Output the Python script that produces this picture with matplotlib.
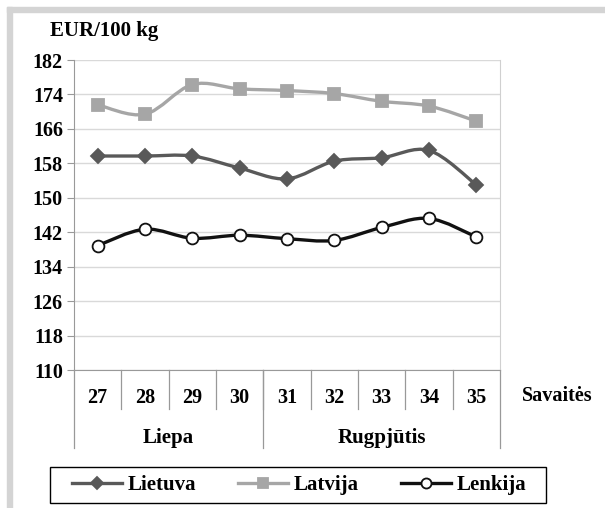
import matplotlib.pyplot as plt
from matplotlib.path import Path
from matplotlib.patches import PathPatch, Rectangle
from matplotlib.lines import Line2D
import numpy as np

weeks = ['27', '28', '29', '30', '31', '32', '33', '34', '35']
months = ['Liepa', 'Rugpjūtis']
month_spans = [(0, 3), (4, 8)]

lietuva = [159.7, 159.7, 159.7, 156.9, 154.4, 158.5, 159.3, 161.0, 153.0]
latvija = [171.6, 169.4, 176.3, 175.3, 174.9, 174.2, 172.4, 171.3, 167.8]
lenkija = [138.9, 142.7, 140.6, 141.3, 140.5, 140.1, 143.1, 145.2, 140.9]

yticks = [110, 118, 126, 134, 142, 150, 158, 166, 174, 182]

font = 'Liberation Serif'
plt.rcParams['font.family'] = font
plt.rcParams['font.weight'] = 'bold'

fig = plt.figure(figsize=(6.05, 5.08), dpi=100)

# grey frame round the chart (top and left edge)
fig.patches.append(Rectangle((7/605, 1 - 12/508), 1, 5/508, transform=fig.transFigure,
                             color='#d4d4d4', zorder=0))
fig.patches.append(Rectangle((7/605, 0), 5/605, 1 - 7/508, transform=fig.transFigure,
                             color='#d4d4d4', zorder=0))
# legend box
fig.patches.append(Rectangle((50/605, 5/508), 496/605, 36/508, transform=fig.transFigure,
                             fill=False, edgecolor='black', lw=1.0, zorder=1))

ax = fig.add_axes([74/605, (508-370)/508, 426/605, 310/508])


def smooth_path(xs, ys):
    # excel style smoothed line, drawn as bezier curves through the points
    pts = np.column_stack([xs, ys]).astype(float)
    verts = [pts[0]]
    codes = [Path.MOVETO]
    n = len(pts)
    for i in range(n - 1):
        p0 = pts[max(i - 1, 0)]
        p1 = pts[i]
        p2 = pts[i + 1]
        p3 = pts[min(i + 2, n - 1)]
        c1 = p1 + (p2 - p0) / 6
        c2 = p2 - (p3 - p1) / 6
        verts += [c1, c2, p2]
        codes += [Path.CURVE4] * 3
    return Path(verts, codes)


x = np.arange(len(weeks))
series = [
    (lietuva, 'Lietuva', '#595959', 'D', '#595959', 7.5),
    (latvija, 'Latvija', '#a6a6a6', 's', '#a6a6a6', 8.5),
    (lenkija, 'Lenkija', '#111111', 'o', 'white', 8.5),
]
handles = []
for vals, name, col, mk, face, ms in series:
    ax.add_patch(PathPatch(smooth_path(x, vals), fill=False, edgecolor=col, lw=2.4, zorder=3))
    ax.plot(x, vals, linestyle='none', marker=mk, markersize=ms, markerfacecolor=face,
            markeredgecolor=col, markeredgewidth=1.3, zorder=4)
    handles.append(Line2D([], [], color=col, lw=2.4, marker=mk, markersize=ms * 0.85,
                          markerfacecolor=face, markeredgecolor=col, markeredgewidth=1.3))

ax.set_xlim(-0.5, len(weeks) - 0.5)
ax.set_ylim(110, 182)
ax.set_yticks(yticks)
ax.set_yticklabels([str(v) for v in yticks], fontsize=14.5, fontweight='bold')
ax.tick_params(axis='y', length=5, color='#999999', pad=3)
ax.set_xticks([])
ax.grid(axis='y', color='#d9d9d9', lw=1)
ax.set_axisbelow(True)
ax.spines['top'].set_visible(False)
for s in ['left', 'bottom']:
    ax.spines[s].set_color('#999999')
ax.spines['right'].set_color('#d0d0d0')

# multi level category axis
trans = ax.get_xaxis_transform()
for i, w in enumerate(weeks):
    ax.text(i, -0.09, w, transform=trans, ha='center', va='center', fontsize=14.5,
            fontweight='bold')
for b in np.arange(0.5, len(weeks) - 1, 1.0):
    ax.plot([b, b], [0, -0.126], transform=trans, color='#999999', lw=0.9, clip_on=False)
for b in [-0.5, 3.5, len(weeks) - 0.5]:
    ax.plot([b, b], [0, -0.252], transform=trans, color='#999999', lw=0.9, clip_on=False)
for m, (a, b) in zip(months, month_spans):
    ax.text((a + b) / 2, -0.219, m, transform=trans, ha='center', va='center',
            fontsize=15, fontweight='bold')

ax.text(1.135, -0.085, 'Savaitės', transform=ax.transAxes, ha='center', va='center',
        fontsize=14.5, fontweight='bold')
fig.text(50/605, 1 - 31/508, 'EUR/100 kg', ha='left', va='center', fontsize=15,
         fontweight='bold')

leg = fig.legend(handles, ['Lietuva', 'Latvija', 'Lenkija'], ncol=3, loc='center left',
                 bbox_to_anchor=(72/605, 23/508), frameon=False,
                 handlelength=2.4, handletextpad=0.25, columnspacing=2.05,
                 prop={'family': font, 'weight': 'bold', 'size': 15},
                 borderaxespad=0, borderpad=0)

plt.savefig('out.png', dpi=100)
